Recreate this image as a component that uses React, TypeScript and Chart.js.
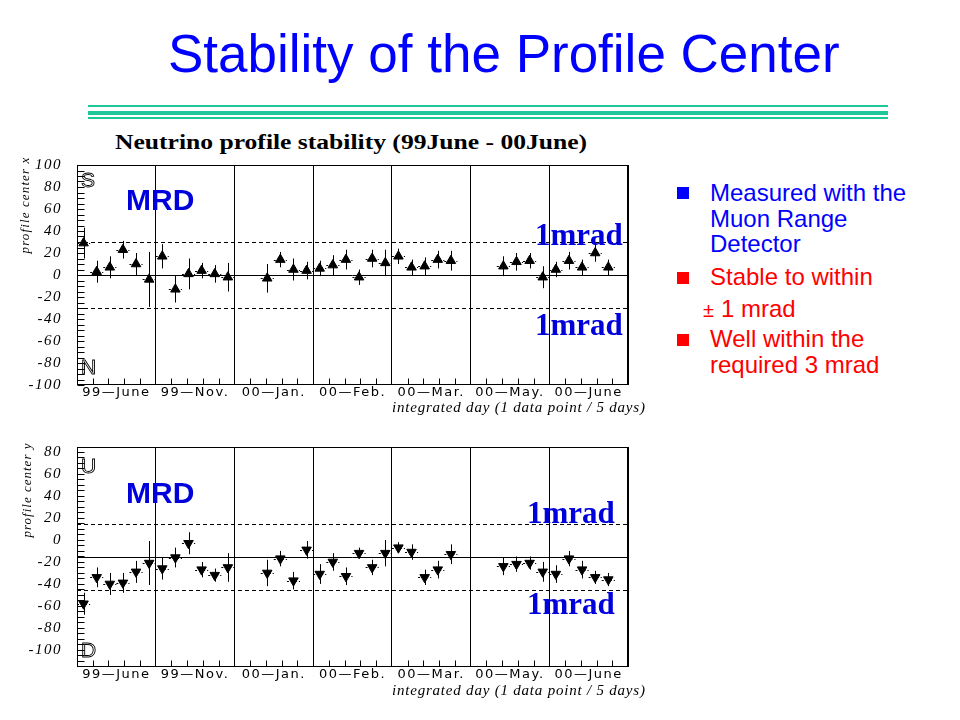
import React, { useEffect, useLayoutEffect, useRef } from 'react';
import { Chart, registerables } from 'chart.js';

Chart.register(...registerables);

// ---------- data ----------
const monthLabels = ['99—June', '99—Nov.', '00—Jan.', '00—Feb.', '00—Mar.', '00—May.', '00—June'];
const slotsPerMonth = 6; // 1 data point / 5 days
const minorTicksPerMonth = 5;

// slot index (5-day bins) of each measured point
const pointSlots = [0, 1, 2, 3, 4, 5, 6, 7, 8, 9, 10, 11, 14, 15, 16, 17, 18, 19, 20, 21, 22, 23, 24, 25, 26, 27, 28, 32, 33, 34, 35, 36, 37, 38, 39, 40];

// profile center x
const centerX = [29, 3, 7, 23, 10, -4, 17, -13, 1, 4, 1, -2, -3, 14, 5, 4, 6, 9, 14, -2, 15, 11, 17, 7, 8, 14, 13, 8, 12, 13, -2, 5, 13, 7, 20, 7];
const centerXErr = [14, 10, 10, 8, 10, 25, 11, 12, 14, 7, 8, 13, 13, 7, 10, 8, 7, 9, 9, 7, 8, 12, 7, 7, 8, 8, 9, 9, 8, 7, 10, 7, 8, 7, 8, 7];

// profile center y
const centerY = [-58, -34, -40, -39, -29, -21, -26, -16, -3, -27, -32, -25, -30, -17, -37, -9, -31, -20, -33, -12, -25, -12, -7, -11, -34, -27, -13, -24, -22, -21, -29, -31, -17, -27, -34, -36];
const centerYErr = [10, 9, 10, 9, 10, 20, 10, 9, 10, 7, 6, 13, 12, 7, 8, 8, 9, 8, 8, 5, 7, 12, 5, 7, 7, 8, 9, 8, 7, 6, 9, 8, 7, 8, 6, 6];

const xTicksTop = [-100, -80, -60, -40, -20, 0, 20, 40, 60, 80, 100];
const xRangeTop = [-100, 100];
const xCenterLine = 0;

const yTicksBottom = [-100, -80, -60, -40, -20, 0, 20, 40, 60, 80];
const yRangeBottom = [-115.5, 84.5];
const yCenterLine = -15.5;

const oneMrad = 30; // band half width

// ---------- plugins ----------
const refLinesPlugin = {
  id: 'refLines',
  beforeDatasetsDraw(chart: any, _a: any, opts: any) {
    const { ctx, chartArea: a, scales: { y } } = chart;
    ctx.save();
    ctx.strokeStyle = '#000';
    ctx.lineWidth = 1;
    const line = (v: number) => {
      const p = Math.round(y.getPixelForValue(v)) + 0.5;
      ctx.beginPath();
      ctx.moveTo(a.left, p);
      ctx.lineTo(a.right, p);
      ctx.stroke();
    };
    line(opts.center);
    ctx.setLineDash([4, 3]);
    line(opts.center + opts.band);
    line(opts.center - opts.band);
    ctx.restore();
  },
};

const errorBarsPlugin = {
  id: 'errorBars',
  beforeDatasetsDraw(chart: any) {
    const { ctx, scales: { x, y } } = chart;
    const data = chart.data.datasets[0].data as any[];
    ctx.save();
    ctx.strokeStyle = '#000';
    ctx.lineWidth = 1;
    data.forEach((p) => {
      const px = Math.round(x.getPixelForValue(p.x)) + 0.5;
      const py = Math.round(y.getPixelForValue(p.y)) + 0.5;
      ctx.setLineDash([]);
      ctx.beginPath();
      ctx.moveTo(px, y.getPixelForValue(p.y + p.e));
      ctx.lineTo(px, y.getPixelForValue(p.y - p.e));
      ctx.stroke();
      ctx.setLineDash([2, 2]);
      ctx.beginPath();
      ctx.moveTo(x.getPixelForValue(p.x - 0.5), py);
      ctx.lineTo(x.getPixelForValue(p.x + 0.5), py);
      ctx.stroke();
    });
    ctx.restore();
  },
};

const framePlugin = {
  id: 'frame',
  afterDatasetsDraw(chart: any) {
    const { ctx, chartArea: a, scales: { x, y } } = chart;
    ctx.save();
    ctx.strokeStyle = '#000';
    ctx.lineWidth = 1;
    const L = Math.round(a.left) + 0.5;
    const R = Math.round(a.right) - 0.5;
    const T = Math.round(a.top) + 0.5;
    const B = Math.round(a.bottom) - 0.5;
    ctx.strokeRect(L, T, R - L, B - T);
    ctx.beginPath();
    for (let v = Math.ceil(y.min / 5) * 5; v <= y.max; v += 5) {
      const p = Math.round(y.getPixelForValue(v)) + 0.5;
      ctx.moveTo(L, p);
      ctx.lineTo(L + 7, p);
    }
    for (let m = 0; m < monthLabels.length; m++) {
      for (let j = 1; j < minorTicksPerMonth; j++) {
        const px = Math.round(x.getPixelForValue(m * slotsPerMonth + (j * slotsPerMonth) / minorTicksPerMonth)) + 0.5;
        ctx.moveTo(px, B);
        ctx.lineTo(px, B - 6);
      }
    }
    ctx.stroke();
    ctx.restore();
  },
};

const spacingPlugin = {
  id: 'spacing',
  beforeDraw(chart: any) {
    (chart.ctx as any).letterSpacing = '1.5px';
  },
  afterDraw(chart: any) {
    (chart.ctx as any).letterSpacing = '0px';
  },
};

function buildConfig(values: number[], errors: number[], range: number[], yTicks: number[], center: number, rotation: number): any {
  const nSlots = monthLabels.length * slotsPerMonth;
  const points = pointSlots.map((s, i) => ({ x: s + 0.5, y: values[i], e: errors[i] }));
  const half = slotsPerMonth / 2;
  return {
    type: 'scatter',
    data: {
      datasets: [
        {
          data: points,
          pointStyle: 'triangle',
          pointRadius: 5.5,
          pointRotation: rotation,
          pointBackgroundColor: '#000',
          pointBorderColor: '#000',
          pointBorderWidth: 1,
          showLine: false,
        },
      ],
    },
    options: {
      responsive: false,
      maintainAspectRatio: false,
      animation: false,
      layout: { padding: { left: 0, top: 15, right: 32, bottom: 0 } },
      plugins: {
        legend: { display: false },
        tooltip: { enabled: false },
        refLines: { center, band: oneMrad },
      },
      scales: {
        x: {
          type: 'linear',
          min: 0,
          max: nSlots,
          afterBuildTicks: (s: any) => {
            const t = [];
            for (let v = 0; v <= nSlots; v += half) t.push({ value: v });
            s.ticks = t;
          },
          afterFit: (s: any) => {
            s.height = 45;
            s.paddingLeft = 0;
            s.paddingRight = 0;
          },
          grid: {
            drawTicks: false,
            lineWidth: 1,
            color: (c: any) => (c.tick && c.tick.value % slotsPerMonth === 0 ? '#000' : 'rgba(0,0,0,0)'),
          },
          border: { display: false },
          ticks: {
            autoSkip: false,
            maxRotation: 0,
            minRotation: 0,
            padding: 0,
            color: '#000',
            font: { family: 'DejaVu Sans', size: 13 },
            callback: (v: any) => {
              const n = Number(v);
              return n % slotsPerMonth === half ? monthLabels[(n - half) / slotsPerMonth] : '';
            },
          },
        },
        y: {
          type: 'linear',
          min: range[0],
          max: range[1],
          afterBuildTicks: (s: any) => {
            s.ticks = yTicks.map((v) => ({ value: v }));
          },
          afterFit: (s: any) => {
            s.width = 77;
            s.paddingTop = 0;
            s.paddingBottom = 0;
          },
          grid: { display: false },
          border: { display: false },
          ticks: {
            padding: 7,
            color: '#000',
            font: { family: 'Liberation Serif', size: 15, style: 'italic' },
            callback: (v: any) => String(v),
          },
        },
      },
    },
    plugins: [refLinesPlugin, errorBarsPlugin, framePlugin, spacingPlugin],
  };
}

function ProfileChart(props: { top: number; values: number[]; errors: number[]; range: number[]; ticks: number[]; center: number; rotation: number }) {
  const ref = useRef<HTMLCanvasElement>(null);
  useEffect(() => {
    const chart = new Chart(ref.current as HTMLCanvasElement, buildConfig(props.values, props.errors, props.range, props.ticks, props.center, props.rotation));
    return () => chart.destroy();
  }, []);
  return <canvas ref={ref} width={660} height={280} style={{ position: 'absolute', left: 0, top: props.top, width: 660, height: 280 }} />;
}

// ---------- text helper ----------
type TxtProps = {
  x: number;
  y: number;
  size: number;
  text: string;
  family?: string;
  weight?: string | number;
  italic?: boolean;
  color?: string;
  fit?: number;
  mode?: 'spacing' | 'scale';
  rotate?: boolean;
  hollow?: boolean;
};

function Txt(p: TxtProps) {
  const ref = useRef<HTMLDivElement>(null);
  useLayoutEffect(() => {
    const el = ref.current;
    if (!el || !p.fit) return;
    el.style.letterSpacing = '0px';
    const w = el.offsetWidth;
    if (p.mode === 'scale') el.style.transform = `scaleX(${p.fit / w})`;
    else el.style.letterSpacing = `${(p.fit - w) / p.text.length}px`;
  }, []);
  const style: any = {
    position: 'absolute',
    whiteSpace: 'nowrap',
    display: 'inline-block',
    fontSize: p.size,
    lineHeight: `${p.size}px`,
    fontFamily: p.family || "'Liberation Sans', Arial, sans-serif",
    fontWeight: p.weight || 'normal',
    fontStyle: p.italic ? 'italic' : 'normal',
    color: p.color || '#000',
  };
  if (p.hollow) {
    style.color = 'transparent';
    style.WebkitTextStroke = '0.9px #000';
  }
  if (p.rotate) {
    style.left = p.x;
    style.top = p.y;
    style.transform = 'translate(-50%, -50%) rotate(-90deg)';
  } else {
    style.left = p.x;
    style.top = p.y - 0.84 * p.size;
    style.transformOrigin = '0 0';
  }
  return (
    <div ref={ref} style={style}>
      {p.text}
    </div>
  );
}

const SERIF = "'Liberation Serif', 'Times New Roman', serif";
const BLUE = '#0000ff';
const LABEL_BLUE = '#0000dc';
const RED = '#ff0000';

function Bullet({ y, color }: { y: number; color: string }) {
  return <div style={{ position: 'absolute', left: 677, top: y, width: 12, height: 12, background: color }} />;
}

export default function App() {
  return (
    <div style={{ position: 'absolute', left: 0, top: 0, width: 960, height: 720, background: '#fff', overflow: 'hidden' }}>
      <Txt x={168} y={72} size={53} text="Stability of the Profile Center" color={BLUE} />
      <div style={{ position: 'absolute', left: 88, top: 105, width: 800, height: 2, background: '#1ec699' }} />
      <div style={{ position: 'absolute', left: 88, top: 111, width: 800, height: 4, background: '#1ec699' }} />
      <div style={{ position: 'absolute', left: 88, top: 117, width: 800, height: 2, background: '#1ec699' }} />

      <Txt x={115} y={149} size={20} text="Neutrino profile stability (99June - 00June)" family={SERIF} weight="bold" fit={472} mode="scale" />

      <ProfileChart top={150} values={centerX} errors={centerXErr} range={xRangeTop} ticks={xTicksTop} center={xCenterLine} rotation={0} />
      <ProfileChart top={432} values={centerY} errors={centerYErr} range={yRangeBottom} ticks={yTicksBottom} center={yCenterLine} rotation={180} />

      {/* top chart annotations */}
      <Txt x={24} y={205} size={13} text="profile center x" family={SERIF} italic fit={97} rotate />
      <Txt x={392} y={413} size={15} text="integrated day (1 data point / 5 days)" family={SERIF} italic fit={254} />
      <Txt x={81} y={187} size={21} text="S" hollow />
      <Txt x={81} y={374} size={21} text="N" hollow />
      <Txt x={126} y={210} size={30} text="MRD" weight="bold" color={LABEL_BLUE} />
      <Txt x={535} y={245} size={31} text="1mrad" family={SERIF} weight="bold" color={LABEL_BLUE} />
      <Txt x={535} y={335} size={31} text="1mrad" family={SERIF} weight="bold" color={LABEL_BLUE} />

      {/* bottom chart annotations */}
      <Txt x={26} y={490} size={13} text="profile center y" family={SERIF} italic fit={95} rotate />
      <Txt x={392} y={696} size={15} text="integrated day (1 data point / 5 days)" family={SERIF} italic fit={254} />
      <Txt x={81} y={473} size={21} text="U" hollow />
      <Txt x={81} y={657} size={21} text="D" hollow />
      <Txt x={126} y={503} size={30} text="MRD" weight="bold" color={LABEL_BLUE} />
      <Txt x={527} y={523} size={31} text="1mrad" family={SERIF} weight="bold" color={LABEL_BLUE} />
      <Txt x={527} y={614} size={31} text="1mrad" family={SERIF} weight="bold" color={LABEL_BLUE} />

      {/* bullets */}
      <Bullet y={187} color={BLUE} />
      <Txt x={710} y={201} size={24} text="Measured with the" color={BLUE} />
      <Txt x={710} y={227} size={24} text="Muon Range" color={BLUE} />
      <Txt x={710} y={252} size={24} text="Detector" color={BLUE} />
      <Bullet y={272} color={RED} />
      <Txt x={710} y={285} size={24} text="Stable to within" color={RED} />
      <Txt x={703} y={317} size={20} text="±" color={RED} />
      <Txt x={721} y={317} size={24} text="1 mrad" color={RED} />
      <Bullet y={334} color={RED} />
      <Txt x={710} y={347} size={24} text="Well within the" color={RED} />
      <Txt x={710} y={373} size={24} text="required 3 mrad" color={RED} />
    </div>
  );
}
